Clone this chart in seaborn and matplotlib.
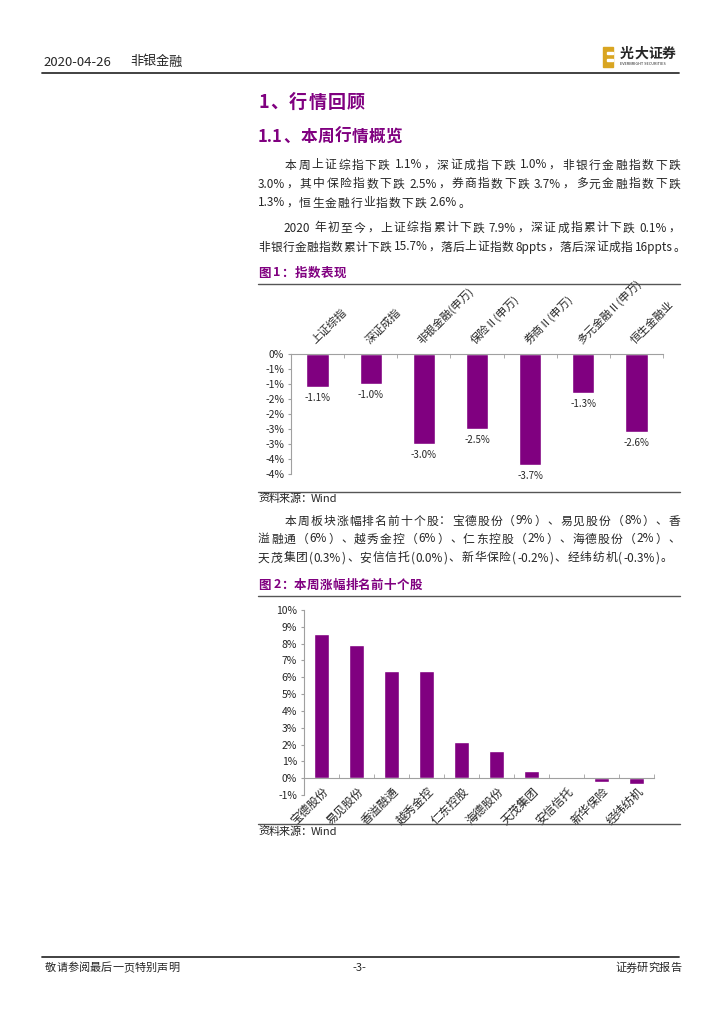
import re
import matplotlib
matplotlib.use('Agg')
import matplotlib.pyplot as plt
import seaborn as sns
import pandas as pd
from matplotlib.lines import Line2D
from matplotlib.patches import Rectangle

# ---- data ----
index_names = ['上证综指', '深证成指', '非银金融(申万)', '保险Ⅱ(申万)', '券商Ⅱ(申万)',
               '多元金融Ⅱ(申万)', '恒生金融业']
index_change = [-1.1, -1.0, -3.0, -2.5, -3.7, -1.3, -2.6]
index_ticks = [0, -0.5, -1, -1.5, -2, -2.5, -3, -3.5, -4]
index_tick_labels = ['0%', '-1%', '-1%', '-2%', '-2%', '-3%', '-3%', '-4%', '-4%']

stock_names = ['宝德股份', '易见股份', '香溢融通', '越秀金控', '仁东控股',
               '海德股份', '天茂集团', '安信信托', '新华保险', '经纬纺机']
stock_change = [8.6, 7.9, 6.4, 6.35, 2.17, 1.6, 0.4, 0.0, -0.22, -0.36]
stock_ticks = [-1, 0, 1, 2, 3, 4, 5, 6, 7, 8, 9, 10]
stock_tick_labels = ['-1%', '0%', '1%', '2%', '3%', '4%', '5%', '6%', '7%', '8%', '9%', '10%']

PURPLE = '#800080'
GREY = '#a0a0a0'
W, H = 724, 1024

sns.set_style('white')
plt.rcParams['font.family'] = ['Noto Sans CJK SC', 'DejaVu Sans']

fig = plt.figure(figsize=(W / 100, H / 100), dpi=100)
renderer = fig.canvas.get_renderer()


def fx(x):
    return x / W


def fy(y):
    return 1 - y / H


def text_w(s, size, **kw):
    t = fig.text(0, 0, s, fontsize=size, **kw)
    w = t.get_window_extent(renderer).width
    t.remove()
    return w


def put_line(s, x0, x1, y, size, **kw):
    # spread the tokens of one line between x0 and x1 (justified text)
    tokens = re.findall(r'[0-9A-Za-z.%\-]+| |\S', s)
    base = text_w('中中', size, **kw)
    widths = []
    for t in tokens:
        if t == ' ':
            widths.append(0.15 * size * 100 / 72)
        else:
            widths.append(text_w('中' + t + '中', size, **kw) - base)
    gap = (x1 - x0 - sum(widths)) / max(len(tokens) - 1, 1)
    x = x0
    for t, w in zip(tokens, widths):
        if t != ' ':
            fig.text(fx(x), fy(y), t, fontsize=size, va='center', **kw)
        x += w + gap


def hline(y, x0=258, x1=680, lw=1.0, color='#555555'):
    fig.add_artist(Line2D([fx(x0), fx(x1)], [fy(y), fy(y)], lw=lw, color=color))


# ---- page header / footer ----
fig.text(fx(43), fy(62), '2020-04-26', fontsize=9.5, va='center')
put_line('非银金融', 130, 182, 62, 9.5)
hline(73, 42, 679, lw=1.3, color='#333333')
fig.add_artist(Rectangle((fx(603), fy(67)), 10 / W, 20 / H, color='#d9a521'))
for yy in (52, 59):
    fig.add_artist(Rectangle((fx(607), fy(yy + 2)), 6 / W, 2 / H, color='white'))
put_line('光大证券', 620, 676, 54, 10, fontweight='bold')
fig.text(fx(620), fy(64), 'EVERBRIGHT SECURITIES', fontsize=2.8, va='center')

hline(957, 42, 679, lw=1.3, color='#333333')
put_line('敬请参阅最后一页特别声明', 45, 179, 968, 8)
fig.text(fx(359), fy(968), '-3-', fontsize=8, va='center', ha='center')
put_line('证券研究报告', 615, 681, 968, 8)

# ---- headings and paragraphs ----
put_line('1、行情回顾', 258, 365, 102, 13, fontweight='bold', color=PURPLE)
put_line('1.1、本周行情概览', 258, 402, 137, 12, fontweight='bold', color=PURPLE)

body = 8.5
put_line('本周上证综指下跌 1.1%，深证成指下跌 1.0%，非银行金融指数下跌', 285, 680, 165, body)
put_line('3.0%，其中保险指数下跌 2.5%，券商指数下跌 3.7%，多元金融指数下跌', 258, 680, 184, body)
put_line('1.3%，恒生金融行业指数下跌 2.6%。', 258, 470, 203, body)
put_line('2020 年初至今，上证综指累计下跌 7.9%，深证成指累计下跌 0.1%，', 283, 680, 228, body)
put_line('非银行金融指数累计下跌 15.7%，落后上证指数 8ppts，落后深证成指 16ppts。', 258, 685, 247, body)

put_line('图 1：指数表现', 258, 346, 273, 9, fontweight='bold', color=PURPLE)
hline(284)
hline(492)
put_line('资料来源：Wind', 258, 337, 499, 8)

put_line('本周板块涨幅排名前十个股：宝德股份（9%）、易见股份（8%）、香', 285, 680, 521, body)
put_line('溢融通（6%）、越秀金控（6%）、仁东控股（2%）、海德股份（2%）、', 258, 680, 539, body)
put_line('天茂集团(0.3%)、安信信托(0.0%)、新华保险(-0.2%)、经纬纺机(-0.3%)。', 258, 672, 558, body)

put_line('图 2：本周涨幅排名前十个股', 258, 422, 585, 9, fontweight='bold', color=PURPLE)
hline(596)
hline(824)
put_line('资料来源：Wind', 258, 337, 832, 8)

# ---- chart 1: index performance ----
df1 = pd.DataFrame({'name': index_names, 'chg': index_change})
ax1 = fig.add_axes([fx(291), fy(474), (663 - 291) / W, (474 - 354) / H])
sns.barplot(data=df1, x='name', y='chg', color=PURPLE, saturation=1, width=0.42, ax=ax1)
ax1.bar_label(ax1.containers[0], labels=[f'{v:.1f}%' for v in index_change],
              padding=4, fontsize=7)
ax1.set_ylim(-4, 0)
ax1.set_xlim(-0.5, len(index_names) - 0.5)
ax1.set_xlabel('')
ax1.set_ylabel('')
ax1.set_facecolor('none')
for s in ['right', 'bottom']:
    ax1.spines[s].set_visible(False)
for s in ['left', 'top']:
    ax1.spines[s].set_color(GREY)
    ax1.spines[s].set_linewidth(0.8)
ax1.xaxis.tick_top()
ax1.set_xticks(range(len(index_names)))
ax1.set_xticklabels(index_names, rotation=45, ha='left', va='bottom',
                    rotation_mode='anchor', fontsize=8)
ax1.set_xticks([i + 0.5 for i in range(len(index_names))], minor=True)
ax1.tick_params(axis='x', which='major', length=0, pad=6, top=True, bottom=False)
ax1.tick_params(axis='x', which='minor', length=3, direction='in', color=GREY,
                top=True, bottom=False)
ax1.set_yticks(index_ticks)
ax1.set_yticklabels(index_tick_labels)
ax1.tick_params(axis='y', length=2, direction='out', color=GREY, labelsize=7.5, pad=3, left=True)

# ---- chart 2: top ten stocks ----
df2 = pd.DataFrame({'name': stock_names, 'chg': stock_change})
ax2 = fig.add_axes([fx(304), fy(795), (654 - 304) / W, (795 - 610) / H])
sns.barplot(data=df2, x='name', y='chg', color=PURPLE, saturation=1, width=0.42, ax=ax2)
ax2.set_ylim(-1, 10)
ax2.set_xlim(-0.5, len(stock_names) - 0.5)
ax2.set_xlabel('')
ax2.set_ylabel('')
ax2.set_facecolor('none')
for s in ['right', 'top']:
    ax2.spines[s].set_visible(False)
ax2.spines['bottom'].set_position(('data', 0))
for s in ['left', 'bottom']:
    ax2.spines[s].set_color(GREY)
    ax2.spines[s].set_linewidth(0.8)
ax2.set_xticks(range(len(stock_names)))
ax2.set_xticklabels(stock_names, rotation=45, ha='right', va='top',
                    rotation_mode='anchor', fontsize=8.5)
ax2.set_xticks([i + 0.5 for i in range(len(stock_names))], minor=True)
ax2.tick_params(axis='x', which='major', length=0, pad=5, bottom=True)
ax2.tick_params(axis='x', which='minor', length=3, direction='in', color=GREY, bottom=True)
ax2.set_yticks(stock_ticks)
ax2.set_yticklabels(stock_tick_labels)
ax2.tick_params(axis='y', length=2, direction='out', color=GREY, labelsize=7.5, pad=3, left=True)

fig.savefig('out.png', dpi=100)
